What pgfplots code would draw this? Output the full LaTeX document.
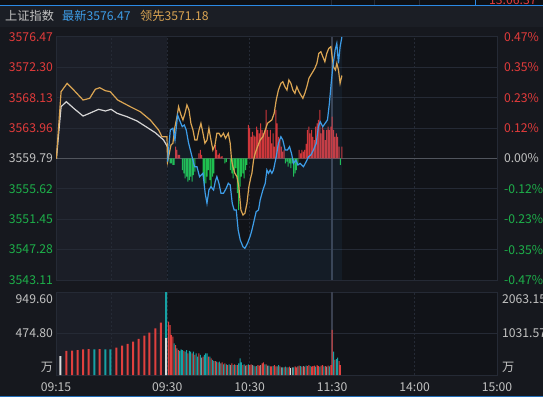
\documentclass[border=0pt]{standalone}
\usepackage{pgfplots}
\usepackage{pgfplotstable}
\pgfplotsset{compat=1.18}
\usepackage{fontspec}
\setmainfont{Noto Sans CJK SC}
\definecolor{bgout}{HTML}{16181E}
\definecolor{hdr}{HTML}{1B1E25}
\definecolor{topstrip}{HTML}{0E1014}
\definecolor{topblue}{HTML}{2B8AE6}
\definecolor{plotbg}{HTML}{111318}
\definecolor{prebg}{HTML}{1B1E27}
\definecolor{gridc}{HTML}{252A35}
\definecolor{sepc}{HTML}{3A404F}
\definecolor{up}{HTML}{E23B3B}
\definecolor{dn}{HTML}{1DB04A}
\definecolor{lbl}{HTML}{C2C2C2}
\definecolor{bline}{HTML}{3D9DE8}
\definecolor{oline}{HTML}{DBA553}
\definecolor{wline}{HTML}{D6D6D6}
\definecolor{vred}{HTML}{E0403E}
\definecolor{vteal}{HTML}{17A2A4}
\definecolor{vgray}{HTML}{8C8C8C}
\definecolor{vwhite}{HTML}{DADADA}
\definecolor{bred}{HTML}{CF373B}
\definecolor{bgreen}{HTML}{1FBF4F}
\newcommand{\tf}{\fontsize{12.2}{14}\selectfont}

\pgfplotstableread{
x y
0.2 3559.35
2.2 3563.70
4.1 3563.94
5.6 3562.33
7.5 3565.76
8.9 3565.08
10.9 3564.16
12.4 3564.39
13.8 3563.70
15.5 3561.92
18.0 3560.04
19.9 3558.66
21.6 3558.66
23.5 3557.29
26.0 3557.76
27.6 3555.01
28.9 3553.64
30.3 3555.47
31.8 3555.92
33.7 3555.47
34.9 3556.61
36.1 3557.29
37.6 3556.39
39.1 3555.01
40.9 3555.01
42.9 3555.70
44.4 3556.39
45.8 3556.15
47.3 3553.64
48.7 3552.72
50.2 3552.72
51.6 3549.97
53.1 3548.60
55.1 3547.68
56.5 3547.46
58.4 3548.15
60.4 3549.15
61.6 3549.97
63.3 3551.35
64.7 3552.49
66.4 3552.72
67.6 3554.09
69.6 3555.47
71.3 3556.39
72.5 3558.21
73.7 3557.76
74.9 3558.21
76.1 3557.76
77.3 3558.21
79.3 3560.04
80.9 3561.88
82.7 3562.78
84.1 3562.33
85.8 3560.96
87.5 3560.96
89.0 3561.41
90.4 3560.50
91.9 3559.13
93.6 3559.58
95.1 3558.90
96.7 3559.13
99.1 3558.66
101.1 3559.35
102.8 3560.04
104.5 3560.27
106.4 3560.96
108.4 3561.88
110.0 3564.16
111.3 3564.84
113.2 3564.16
114.9 3564.62
116.6 3565.08
118.0 3567.37
119.3 3570.11
120.5 3572.39
122.2 3574.68
123.4 3575.60
124.6 3572.86
125.8 3575.14
127.1 3576.47
}\bluedata

\pgfplotstableread{
x y
-80.7 3559.79
-77.3 3568.96
-72.9 3570.11
-68.1 3569.19
-61.3 3567.82
-56.5 3568.05
-52.4 3569.29
-49.2 3569.51
-45.1 3569.10
-41.5 3568.96
-36.1 3567.82
-26.9 3566.90
-19.6 3566.21
-12.4 3565.08
-6.3 3563.70
-3.9 3562.78
-0.2 3562.78
0.2 3559.35
1.2 3560.27
2.7 3561.64
4.1 3561.88
5.6 3564.16
7.1 3565.53
8.2 3566.90
10.0 3565.76
11.4 3565.08
12.9 3566.00
14.3 3567.13
15.8 3566.45
17.2 3564.62
18.7 3563.70
20.1 3562.33
21.6 3562.33
23.1 3563.70
24.5 3564.62
26.0 3563.25
27.4 3561.88
28.9 3562.33
30.3 3563.94
31.8 3562.33
33.2 3560.96
34.7 3561.64
36.1 3563.25
37.6 3563.25
39.1 3562.78
40.9 3563.25
42.4 3562.56
44.4 3563.25
45.8 3561.88
46.8 3559.58
47.8 3558.66
49.2 3557.76
50.7 3557.29
52.1 3555.92
53.6 3552.72
55.1 3552.03
56.5 3552.27
58.0 3553.64
59.4 3555.92
60.9 3557.29
61.6 3557.76
62.8 3559.58
64.0 3560.50
65.7 3561.41
67.6 3562.33
69.6 3562.78
71.3 3563.70
72.9 3564.62
74.4 3564.84
76.1 3565.08
77.8 3566.00
79.3 3567.82
80.9 3569.19
82.7 3570.11
84.1 3570.33
85.6 3569.65
87.1 3569.19
88.5 3570.57
90.0 3570.11
91.4 3569.19
92.9 3568.74
94.3 3569.65
95.8 3568.96
97.2 3568.51
98.7 3568.05
100.1 3568.74
101.6 3569.65
103.1 3570.80
104.5 3571.25
106.0 3571.71
107.4 3572.17
108.9 3572.86
110.3 3574.23
111.8 3574.45
113.2 3573.77
114.7 3573.08
116.1 3574.23
117.6 3574.92
119.1 3575.14
120.0 3573.77
120.9 3572.39
122.4 3571.94
123.4 3572.86
124.6 3571.94
125.8 3570.11
127.1 3571.18
}\orangedata

\pgfplotstableread{
x y
-80.7 3559.79
-77.3 3566.90
-73.5 3567.59
-68.1 3566.68
-61.3 3565.62
-56.5 3566.00
-50.0 3566.54
-45.1 3566.31
-40.9 3566.54
-36.6 3566.00
-29.3 3565.53
-22.0 3564.94
-14.8 3564.07
-8.7 3563.33
-2.7 3562.33
-0.2 3561.51
0.5 3561.20
}\whitedata

\begin{document}
\begin{tikzpicture}
\useasboundingbox (0pt,0pt) rectangle (543pt,397pt);
\clip (0pt,0pt) rectangle (543pt,397pt);
\fill[bgout] (0pt,0pt) rectangle (543pt,397pt);
\fill[hdr] (0pt,370pt) rectangle (543pt,391pt);
\fill[topstrip] (0pt,391pt) rectangle (543pt,397pt);
\draw[gridc, line width=1pt] (331pt,391pt) -- (331pt,397pt) (374pt,391pt) -- (374pt,397pt) (419pt,391pt) -- (419pt,397pt);
\draw[topblue, line width=1pt] (475pt,391pt) -- (475pt,397pt);
\draw[topblue, line width=1pt] (0pt,391pt) -- (543pt,391pt);
\node[anchor=base west, text=up, inner sep=0pt, font=\tf] at (489pt,392.5pt) {13:06:37};
\node[anchor=west, inner sep=0pt, text=lbl, font=\tf] at (5pt,381pt) {上证指数};
\node[anchor=west, inner sep=0pt, text=bline, font=\tf] at (62pt,381pt) {最新3576.47};
\node[anchor=west, inner sep=0pt, text=oline, font=\tf] at (140pt,381pt) {领先3571.18};
% panel backgrounds
\fill[plotbg] (56pt,117pt) rectangle (497pt,360pt);
\fill[prebg] (56pt,117pt) rectangle (167.3pt,360pt);
\fill[plotbg] (56pt,22pt) rectangle (497pt,105pt);
\fill[prebg] (56pt,22pt) rectangle (167.3pt,105pt);
\draw[topblue!80!black, line width=1pt] (0pt,1pt) -- (543pt,1pt);

% ---------- main frame ----------
\begin{axis}[at={(56pt,117pt)}, anchor=south west, width=441pt, height=243pt, scale only axis,
  xmin=-81, xmax=240, ymin=3543.11, ymax=3576.47,
  xtick=\empty,
  ytick={3543.11,3547.28,3551.45,3555.62,3559.79,3563.96,3568.13,3572.30,3576.47},
  yticklabels={\textcolor{dn}{3543.11},\textcolor{dn}{3547.28},\textcolor{dn}{3551.45},\textcolor{dn}{3555.62},\textcolor{lbl}{3559.79},\textcolor{up}{3563.96},\textcolor{up}{3568.13},\textcolor{up}{3572.30},\textcolor{up}{3576.47}},
  ymajorgrids, major grid style={gridc, line width=1pt},
  axis line style={gridc, line width=1pt}, tick style={draw=none},
  yticklabel style={font=\tf, anchor=east, xshift=0.5pt}]
\draw[gridc, line width=1pt, dash pattern=on 2pt off 2pt] (axis cs:-40.5,3543.11) -- (axis cs:-40.5,3576.47);
\draw[gridc, line width=1pt, dash pattern=on 2pt off 2pt] (axis cs:0,3543.11) -- (axis cs:0,3576.47);
\draw[gridc, line width=1pt, dash pattern=on 2pt off 2pt] (axis cs:60,3543.11) -- (axis cs:60,3576.47);
\draw[gridc, line width=1pt, dash pattern=on 2pt off 2pt] (axis cs:180,3543.11) -- (axis cs:180,3576.47);
\draw[sepc, line width=1.8pt] (axis cs:120,3543.11) -- (axis cs:120,3576.47);
\draw[gridc!80!white, line width=1.4pt] (axis cs:-81,3559.79) -- (axis cs:240,3559.79);
\end{axis}

% ---------- breadth bars ----------
\begin{axis}[at={(56pt,117pt)}, anchor=south west, width=441pt, height=243pt, scale only axis,
  xmin=-81, xmax=240, ymin=-100, ymax=100, hide axis]
\addplot[ybar, bar width=1pt, bar shift=0pt, fill=bred, draw=none] coordinates {
(1,4) (6,9.7) (7,7) (8,2.9) (9,2.9) (23,4.3) (24,7) (25,2.9) (35,11.1) (36,7) (37,2.9) (38,4.3) (39,1.5) (40,2)
(59,27.6) (60,25) (61,17.9) (62,22) (63,19) (64,18) (65,26.2) (66,23.5) (67,20.7) (68,29) (69,23.5) (70,20.7)
(71,23.5) (72,40) (73,23.5) (74,17.9) (75,23.5) (76,12.5) (77,20.7) (78,9.7) (79,40) (80,29) (81,17.9) (82,15.2)
(83,9.7) (84,5.6) (85,7) (96,7) (97,4.3) (98,7) (99,5.6) (100,7) (101,12) (102,23.5) (103,26.2) (104,20.7)
(105,23.5) (106,17.9) (107,15.2) (108,26.2) (109,29) (110,31.7) (111,40) (112,20.7) (113,26.2) (114,23.5)
(115,15.2) (116,23.5) (117,26.2) (118,23.5) (119,26.2) (120,34.4) (121,23.5) (122,17.9) (123,20.7) (124,17.9)
(125,9.7) (127,9.7)};
\addplot[ybar, bar width=1pt, bar shift=0pt, fill=bgreen, draw=none] coordinates {
(2,-4) (3,-4) (4,-5.3) (5,-5.3) (11,-9.5) (12,-12.2) (13,-16.3) (14,-15) (15,-19.1) (16,-17.7) (17,-15)
(18,-19.1) (19,-13.6) (20,-10.9) (26,-15) (27,-23.2) (28,-20.4) (29,-15) (30,-9.5) (31,-17.7) (32,-23.2)
(33,-15) (34,-12.2) (42,-4) (43,-3) (46,-9.5) (47,-12.2) (48,-16.3) (49,-10) (50,-8) (51,-28.6) (52,-42.4)
(53,-23.2) (54,-15) (55,-12.2) (56,-16.3) (57,-9.5) (58,-5.3) (86,-4) (87,-2.6) (88,-6.7) (89,-4) (90,-8)
(91,-4) (92,-15) (93,-12.2) (94,-9.5) (95,-4) (126,-5.3)};
\end{axis}

% ---------- price lines ----------
\begin{axis}[at={(56pt,117pt)}, anchor=south west, width=441pt, height=243pt, scale only axis,
  xmin=-81, xmax=240, ymin=3543.11, ymax=3576.47,
  xtick=\empty, axis line style={draw=none}, tick style={draw=none},
  yticklabel pos=right,
  ytick={3543.11,3547.28,3551.45,3555.62,3559.79,3563.96,3568.13,3572.30,3576.47},
  yticklabels={\textcolor{dn}{-0.47\%},\textcolor{dn}{-0.35\%},\textcolor{dn}{-0.23\%},\textcolor{dn}{-0.12\%},\textcolor{lbl}{0.00\%},\textcolor{up}{0.12\%},\textcolor{up}{0.23\%},\textcolor{up}{0.35\%},\textcolor{up}{0.47\%}},
  yticklabel style={font=\tf, anchor=west, xshift=3.5pt}]
\addplot[draw=none, fill=bline, fill opacity=0.07] table {\bluedata} \closedcycle;
\addplot[wline, line width=1.2pt] table {\whitedata};
\addplot[oline, line width=1.2pt] table {\orangedata};
\addplot[bline, line width=1.2pt] table {\bluedata};
\end{axis}

% ---------- volume (left scale) ----------
\begin{axis}[at={(56pt,22pt)}, anchor=south west, width=441pt, height=83pt, scale only axis,
  xmin=-81, xmax=240, ymin=0, ymax=949.6,
  xtick={-81,0,60,120,180,240}, xticklabels={09:15,09:30,10:30,11:30,14:00,15:00},
  xticklabel style={font=\tf, text=lbl, anchor=center, yshift=-12.5pt},
  ytick={91.5,474.8,869}, yticklabels={万,474.80,949.60},
  yticklabel style={font=\tf, text=lbl, anchor=east, xshift=0.5pt},
  axis line style={gridc, line width=1pt}, tick style={draw=none}]
\draw[gridc, line width=1pt] (axis cs:-81,474.8) -- (axis cs:240,474.8);
\draw[gridc, line width=1pt, dash pattern=on 2pt off 2pt] (axis cs:-40.5,0) -- (axis cs:-40.5,949.6);
\draw[gridc, line width=1pt, dash pattern=on 2pt off 2pt] (axis cs:0,0) -- (axis cs:0,949.6);
\draw[gridc, line width=1pt, dash pattern=on 2pt off 2pt] (axis cs:60,0) -- (axis cs:60,949.6);
\draw[gridc, line width=1pt, dash pattern=on 2pt off 2pt] (axis cs:180,0) -- (axis cs:180,949.6);
\draw[sepc, line width=1.8pt] (axis cs:120,0) -- (axis cs:120,949.6);
% pre-market auction
\addplot[ybar, bar width=2pt, bar shift=0pt, fill=vred, draw=none] coordinates {
(-73.5,275) (-69.3,278) (-65.2,286) (-61.3,294) (-57.2,297) (-49.2,297) (-37.1,312) (-32.9,335) (-28.9,355)
(-24.9,381) (-20.9,412) (-16.7,450) (-13.1,484) (-8.7,534) (-4.6,598)};
\addplot[ybar, bar width=2pt, bar shift=0pt, fill=vteal, draw=none] coordinates {
(-53.1,294) (-45.1,294) (-41.5,294) (-0.9,949)};
\addplot[ybar, bar width=2pt, bar shift=0pt, fill=vwhite, draw=none] coordinates {
(-77.8,217) (-0.9,423)};
% continuous trading
\addplot[ybar, bar width=1pt, bar shift=0pt, fill=vred, draw=none] coordinates {
(1,610) (2,572) (3,458) (4,438) (6,343) (8,286) (12,275) (15,248) (18,248) (20,229) (23,248) (26,210) (30,210)
(32,191) (35,160) (37,145) (40,145) (42,134) (44,114) (47,134) (49,122) (51,114) (55,114) (58,114) (60,114)
(61,122) (64,99) (66,114) (67,107) (69,134) (70,145) (72,122) (75,99) (76,99) (78,114) (79,99) (82,99) (85,88)
(87,88) (89,95) (93,99) (94,88) (96,107) (98,95) (100,95) (102,103) (103,114) (105,95) (106,103) (107,107)
(109,114) (110,103) (112,107) (113,114) (115,103) (117,107) (119,114) (120,515) (122,172) (125,160) (126,114)};
\addplot[ybar, bar width=1pt, bar shift=0pt, fill=vteal, draw=none] coordinates {
(5,362) (9,275) (10,294) (11,286) (13,267) (14,286) (16,275) (17,267) (19,267) (21,248) (22,210) (24,229)
(27,229) (28,248) (29,248) (31,210) (33,172) (36,152) (38,152) (41,122) (43,122) (45,122) (48,114) (50,114)
(52,134) (53,191) (54,145) (56,122) (59,122) (63,107) (65,103) (71,122) (74,107) (77,103) (81,114) (84,88)
(86,95) (88,88) (92,88) (97,103) (101,107) (104,103) (108,95) (111,95) (114,99) (118,99) (121,267) (123,183) (124,198)};
\addplot[ybar, bar width=1pt, bar shift=0pt, fill=vgray, draw=none] coordinates {
(7,305) (25,198) (34,160) (39,134) (46,114) (57,107) (62,114) (68,114) (73,107) (80,99) (83,88) (91,88)
(95,99) (99,103) (116,95)};
\addplot[ybar, bar width=1pt, bar shift=0pt, fill=vwhite, draw=none] coordinates {(90,80)};
\end{axis}

% ---------- volume (right scale labels) ----------
\begin{axis}[at={(56pt,22pt)}, anchor=south west, width=441pt, height=83pt, scale only axis,
  xmin=-81, xmax=240, ymin=0, ymax=2063.15,
  xtick=\empty, axis line style={draw=none}, tick style={draw=none},
  yticklabel pos=right,
  ytick={198.8,1031.57,1888.3}, yticklabels={万,1031.57,2063.15},
  yticklabel style={font=\tf, text=lbl, anchor=west, xshift=1.5pt}]
\addplot[draw=none] coordinates {(0,0)};
\end{axis}
\end{tikzpicture}
\end{document}
